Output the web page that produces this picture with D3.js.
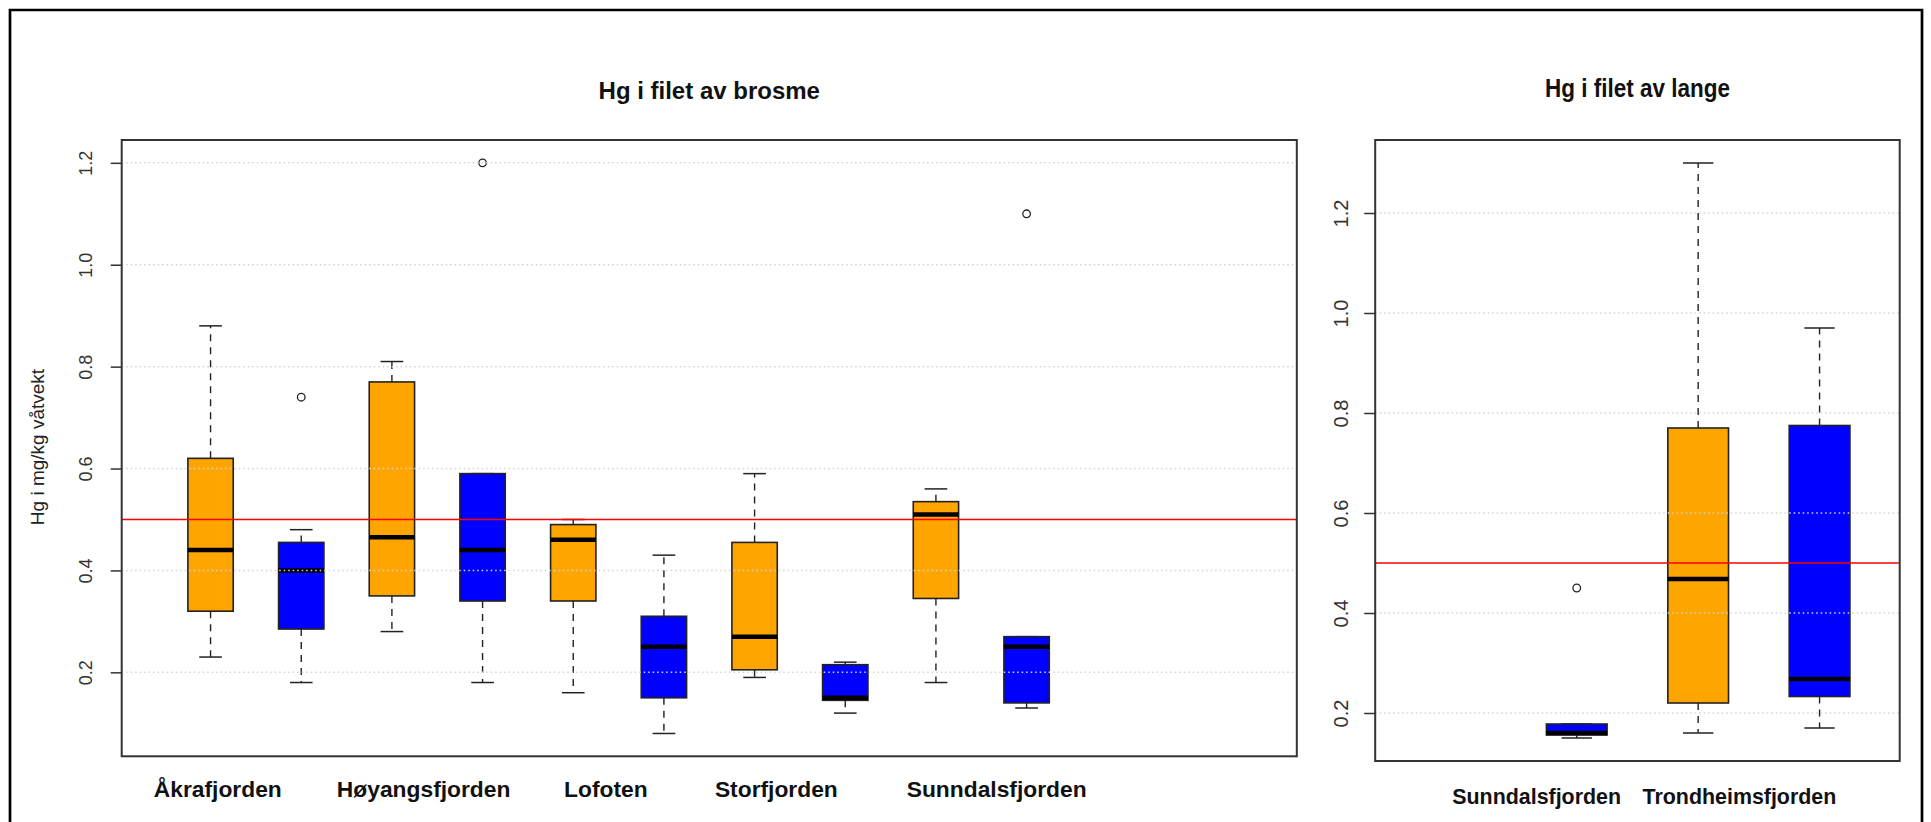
<!DOCTYPE html>
<html>
<head>
<meta charset="utf-8">
<script src="https://cdn.jsdelivr.net/npm/d3@7"></script>
<style>
  body { margin: 0; background: #fff; }
  svg { display: block; font-family: "Liberation Sans", Arial, sans-serif; }
</style>
</head>
<body>
<div id="chart"></div>
<script>
// Brosme panel: 12 slots (orange/blue pairs), the last two are empty
const brosmeGroups  = ["Åkrafjorden", "Høyangsfjorden", "Lofoten", "Storfjorden", "Sunndalsfjorden"];
const brosmeLabelAt = [1.08, 3.35, 5.36, 7.24, 9.67];
const brosmeLow     = [0.23, 0.18, 0.28, 0.18, 0.16, 0.08, 0.19, 0.12, 0.18, 0.13, null, null];
const brosmeQ1      = [0.32, 0.285, 0.35, 0.34, 0.34, 0.15, 0.205, 0.145, 0.345, 0.14, null, null];
const brosmeMedian  = [0.44, 0.40, 0.465, 0.44, 0.46, 0.25, 0.27, 0.15, 0.51, 0.25, null, null];
const brosmeQ3      = [0.62, 0.455, 0.77, 0.59, 0.49, 0.31, 0.455, 0.215, 0.535, 0.27, null, null];
const brosmeHigh    = [0.88, 0.48, 0.81, 0.59, 0.50, 0.43, 0.59, 0.22, 0.56, 0.27, null, null];
const brosmeOutliers = [[2, 0.74], [4, 1.2], [10, 1.1]];

// Lange panel: 4 slots, the first one is empty
const langeGroups  = ["Sunndalsfjorden", "Trondheimsfjorden"];
const langeLabelAt = [1.67, 3.34];
const langeLow     = [null, 0.15, 0.16, 0.17];
const langeQ1      = [null, 0.156, 0.22, 0.233];
const langeMedian  = [null, 0.16, 0.468, 0.268];
const langeQ3      = [null, 0.178, 0.77, 0.775];
const langeHigh    = [null, 0.178, 1.30, 0.97];
const langeOutliers = [[2, 0.45]];

const yTicks = [0.2, 0.4, 0.6, 0.8, 1.0, 1.2];
const limitValue = 0.5;
const slotColors = ["#FFA500", "#0000FF"];

const width = 1931, height = 822;

const svg = d3.select("#chart").append("svg")
  .attr("width", width)
  .attr("height", height);

// outer frame of the figure
svg.append("path")
  .attr("d", "M10,840V10H1922V840")
  .attr("fill", "none")
  .attr("stroke", "#000")
  .attr("stroke-width", 2.7);

function drawPanel(p) {
  const x = d3.scaleLinear().domain(p.xDomain).range([p.left, p.right]);
  const y = d3.scaleLinear().domain(p.yDomain).range([p.bottom, p.top]);
  const g = svg.append("g");

  const boxes = p.low.map((d, i) => ({
    slot: i + 1,
    lo: p.low[i], q1: p.q1[i], med: p.median[i], q3: p.q3[i], hi: p.high[i],
    color: slotColors[i % 2]
  })).filter(d => d.lo !== null);

  const hw = 0.25;   // half box width in slot units
  const cw = 0.125;  // half staple width

  const b = g.selectAll("g.box").data(boxes).join("g").attr("class", "box");

  // whiskers
  b.append("line")
    .attr("x1", d => x(d.slot)).attr("x2", d => x(d.slot))
    .attr("y1", d => y(d.q3)).attr("y2", d => y(d.hi))
    .attr("stroke", "#222").attr("stroke-width", 1.4).attr("stroke-dasharray", "7,6");
  b.append("line")
    .attr("x1", d => x(d.slot)).attr("x2", d => x(d.slot))
    .attr("y1", d => y(d.q1)).attr("y2", d => y(d.lo))
    .attr("stroke", "#222").attr("stroke-width", 1.4).attr("stroke-dasharray", "7,6");
  // staples
  b.append("line")
    .attr("x1", d => x(d.slot - cw)).attr("x2", d => x(d.slot + cw))
    .attr("y1", d => y(d.hi)).attr("y2", d => y(d.hi))
    .attr("stroke", "#222").attr("stroke-width", 1.5);
  b.append("line")
    .attr("x1", d => x(d.slot - cw)).attr("x2", d => x(d.slot + cw))
    .attr("y1", d => y(d.lo)).attr("y2", d => y(d.lo))
    .attr("stroke", "#222").attr("stroke-width", 1.5);
  // box
  b.append("rect")
    .attr("x", d => x(d.slot - hw))
    .attr("width", d => x(d.slot + hw) - x(d.slot - hw))
    .attr("y", d => y(d.q3))
    .attr("height", d => y(d.q1) - y(d.q3))
    .attr("fill", d => d.color)
    .attr("stroke", "#222").attr("stroke-width", 1.6);
  // median
  b.append("line")
    .attr("x1", d => x(d.slot - hw)).attr("x2", d => x(d.slot + hw))
    .attr("y1", d => y(d.med)).attr("y2", d => y(d.med))
    .attr("stroke", "#000").attr("stroke-width", 4.5);

  // outliers
  g.selectAll("circle.out").data(p.outliers).join("circle")
    .attr("class", "out")
    .attr("cx", d => x(d[0])).attr("cy", d => y(d[1]))
    .attr("r", 3.8)
    .attr("fill", "none").attr("stroke", "#222").attr("stroke-width", 1.3);

  // dotted grid on top of the boxes
  g.selectAll("line.grid").data(yTicks).join("line")
    .attr("class", "grid")
    .attr("x1", p.left).attr("x2", p.right)
    .attr("y1", d => y(d)).attr("y2", d => y(d))
    .attr("stroke", "#d3d3d3").attr("stroke-width", 1.5).attr("stroke-dasharray", "1.5,3");

  // limit line
  g.append("line")
    .attr("x1", p.left).attr("x2", p.right)
    .attr("y1", y(limitValue)).attr("y2", y(limitValue))
    .attr("stroke", "#ff0000").attr("stroke-width", 1.6);

  // frame
  g.append("rect")
    .attr("x", p.left).attr("y", p.top)
    .attr("width", p.right - p.left).attr("height", p.bottom - p.top)
    .attr("fill", "none").attr("stroke", "#333").attr("stroke-width", 2);

  // y axis
  const ax = g.append("g")
    .attr("transform", `translate(${p.left},0)`)
    .call(d3.axisLeft(y).tickValues(yTicks).tickSize(11).tickFormat(d3.format(".1f")));
  ax.select(".domain").remove();
  ax.selectAll(".tick line").attr("stroke", "#333").attr("stroke-width", 1.5);
  ax.selectAll(".tick text")
    .attr("x", 0).attr("y", -p.tickLabelOffset).attr("dy", null)
    .attr("transform", "rotate(-90)")
    .attr("text-anchor", "middle")
    .attr("dominant-baseline", "central")
    .attr("fill", "#333")
    .attr("font-size", p.tickFont)
    .attr("font-family", "Liberation Sans, Arial, sans-serif");

  // group labels
  g.selectAll("text.grp").data(p.groups).join("text")
    .attr("class", "grp")
    .attr("x", (d, i) => x(p.labelAt[i]))
    .attr("y", p.labelBaseline)
    .attr("text-anchor", "middle")
    .attr("font-weight", "bold")
    .attr("font-size", p.labelFont)
    .attr("fill", "#111")
    .text(d => d);

  // title
  const t = g.append("text")
    .attr("x", (p.left + p.right) / 2)
    .attr("y", p.titleBaseline)
    .attr("text-anchor", "middle")
    .attr("font-weight", "bold")
    .attr("font-size", p.titleFont)
    .attr("fill", "#111")
    .text(p.title);
  if (p.titleLength) {
    t.attr("textLength", p.titleLength).attr("lengthAdjust", "spacingAndGlyphs")
     .attr("x", (p.left + p.right) / 2 - p.titleLength / 2).attr("text-anchor", "start");
  }
}

drawPanel({
  title: "Hg i filet av brosme",
  left: 121.7, right: 1296.8, top: 140, bottom: 756.3,
  xDomain: [0.02, 12.98], yDomain: [0.0352, 1.2448],
  low: brosmeLow, q1: brosmeQ1, median: brosmeMedian, q3: brosmeQ3, high: brosmeHigh,
  outliers: brosmeOutliers,
  groups: brosmeGroups, labelAt: brosmeLabelAt,
  labelBaseline: 797, labelFont: 22.8,
  titleBaseline: 99.3, titleFont: 24,
  tickFont: 18, tickLabelOffset: 36
});

drawPanel({
  title: "Hg i filet av lange",
  left: 1375.2, right: 1899.7, top: 140, bottom: 761,
  xDomain: [0.34, 4.66], yDomain: [0.104, 1.346],
  low: langeLow, q1: langeQ1, median: langeMedian, q3: langeQ3, high: langeHigh,
  outliers: langeOutliers,
  groups: langeGroups, labelAt: langeLabelAt,
  labelBaseline: 804, labelFont: 21.4,
  titleBaseline: 96.5, titleFont: 25, titleLength: 185,
  tickFont: 20, tickLabelOffset: 34
});

// y axis title of the left panel
svg.append("text")
  .attr("transform", "translate(37.5,447) rotate(-90)")
  .attr("text-anchor", "middle")
  .attr("dominant-baseline", "central")
  .attr("font-size", 19)
  .attr("fill", "#222")
  .text("Hg i mg/kg våtvekt");
</script>
</body>
</html>
